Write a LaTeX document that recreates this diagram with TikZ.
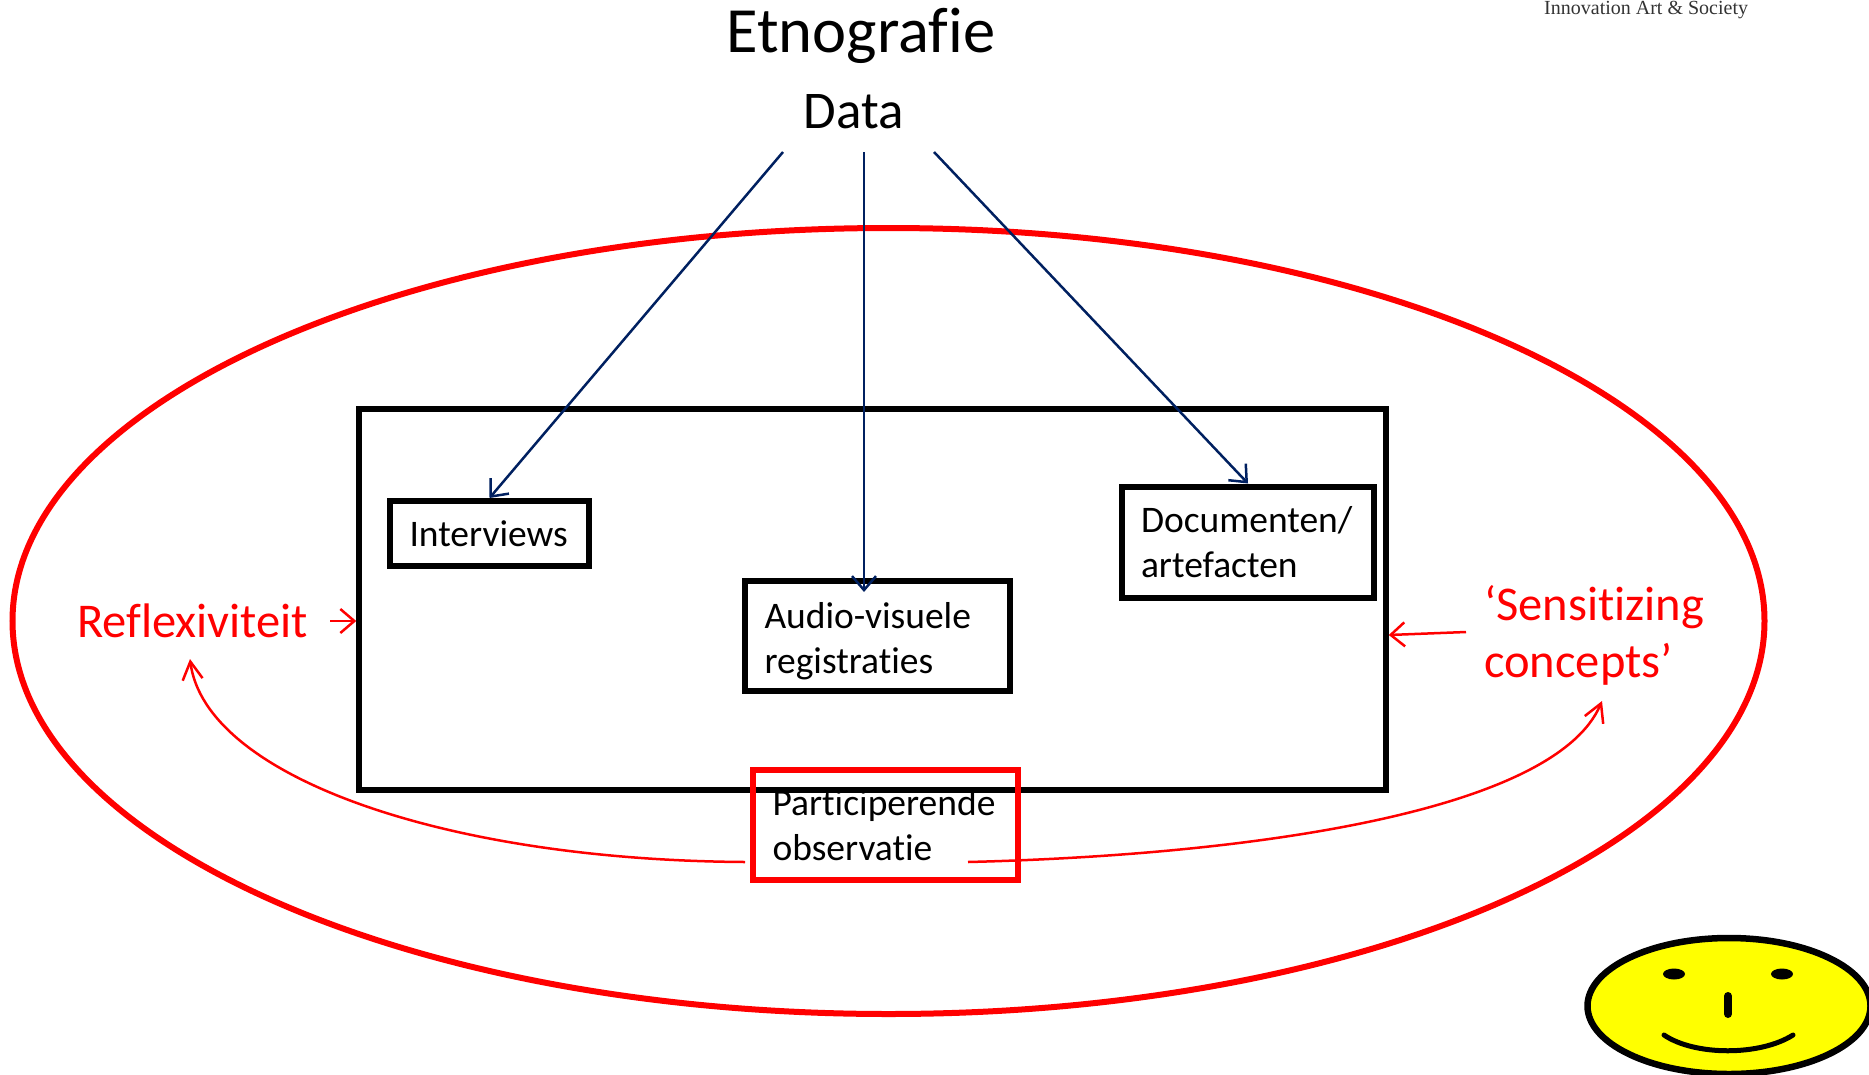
\documentclass[tikz,border=0pt]{standalone}
\usepackage{fontspec}
\setmainfont[Ligatures=CommonOff]{Carlito}
\newfontfamily\serifnote{Liberation Serif}
\usetikzlibrary{arrows.meta,shapes.geometric}
\definecolor{navyline}{HTML}{002060}
\definecolor{redline}{HTML}{FF0000}
\definecolor{faceyellow}{HTML}{FFFF00}
\tikzset{
  x=1pt,y=-1pt,
  inbox/.style={draw=black,line width=6pt,inner sep=0pt,align=left,font=\fontsize{37.5}{45}\selectfont,text=black},
  redbox/.style={inbox,draw=redline},
  navyarrow/.style={draw=navyline,line width=2.5pt,-{Straight Barb[length=14pt,width=24pt,line width=2.5pt]}},
  redarrow/.style={draw=redline,line width=2.5pt,-{Straight Barb[length=14pt,width=24pt,line width=2.5pt]}},
  redcurve/.style={draw=redline,line width=2.5pt,-{Straight Barb[length=18pt,width=20pt,line width=2.5pt]}},
  redlabel/.style={text=redline,font=\fontsize{48.5}{57}\selectfont,align=left,inner sep=0pt},
}
\begin{document}
\begin{tikzpicture}
\useasboundingbox (0,0) rectangle (1869,1074);
\node[draw=redline,line width=6pt,ellipse,inner sep=0pt,minimum width=1752pt,minimum height=786pt] (outer) at (888.5,621) {};
\node[draw=black,line width=5.5pt,minimum width=1027pt,minimum height=381pt,inner sep=0pt] (field) at (872.5,599.5) {};
\node[font=\fontsize{64.5}{70}\selectfont,inner sep=0pt] (title) at (861,36) {Etnografie};
\node[font=\fontsize{53}{58}\selectfont,inner sep=0pt] (data) at (853.5,112) {Data};
\node[anchor=west,inner sep=0pt,text=black!80,font=\serifnote\fontsize{20}{24}\selectfont] (note) at (1544,10) {Innovation Art \& Society};
\node[inbox,minimum width=199pt,minimum height=65pt,text width=160pt] (interviews) at (489.5,533.5) {Interviews};
\node[inbox,minimum width=252pt,minimum height=111pt,text width=214pt] (docs) at (1248,542) {Documenten/\\artefacten};
\node[inbox,minimum width=265pt,minimum height=110pt,text width=226pt] (audio) at (877.5,636) {\rule{0pt}{36pt}Audio-visuele\\registraties};
\node[redbox,fill=none,minimum width=265pt,minimum height=110pt,text width=226pt] (obs) at (885.5,825) {Participerende\\observatie};
\node[redlabel,anchor=west] (refl) at (77,621) {Reflexiviteit};
\node[redlabel,anchor=west] (sens) at (1484,635) {‘Sensitizing\\concepts’};
\coordinate (d1) at (783,152);
\coordinate (d2) at (864,152);
\coordinate (d3) at (934,152);
\coordinate (audiotip) at (864,592);
\coordinate (r1) at (330,621);
\coordinate (s1) at (1466,632);
\coordinate (o1) at (745,862);
\coordinate (o2) at (968,862);
\coordinate (reftip) at (190,659);
\coordinate (sentip) at (1602,701);
\draw[navyarrow] (d1) -- (interviews.north);
\draw[navyarrow] (d2) -- (audiotip);
\draw[navyarrow] (d3) -- (docs.north);
\draw[redarrow] (r1) -- (field.west |- r1);
\draw[redarrow] (s1) -- (field.east |- 0,635);
\draw[redcurve] (o1) .. controls (440,860) and (205,775) .. (reftip);
\draw[redcurve] (o2) .. controls (1250,855) and (1555,812) .. (sentip);
\node[draw=black,fill=faceyellow,line width=6.5pt,ellipse,inner sep=0pt,minimum width=283pt,minimum height=136pt] (face) at (1729,1006) {};
\node[fill=black,ellipse,inner sep=0pt,minimum width=22pt,minimum height=11pt] (eyeL) at (1674,974) {};
\node[fill=black,ellipse,inner sep=0pt,minimum width=22pt,minimum height=11pt] (eyeR) at (1782,974) {};
\draw[black,line width=8pt,line cap=round] (1728,996) -- (1728,1014);
\draw[black,line width=5pt,line cap=round] (1664,1035) .. controls (1695,1056) and (1760,1056) .. (1793,1035);
\end{tikzpicture}
\end{document}
